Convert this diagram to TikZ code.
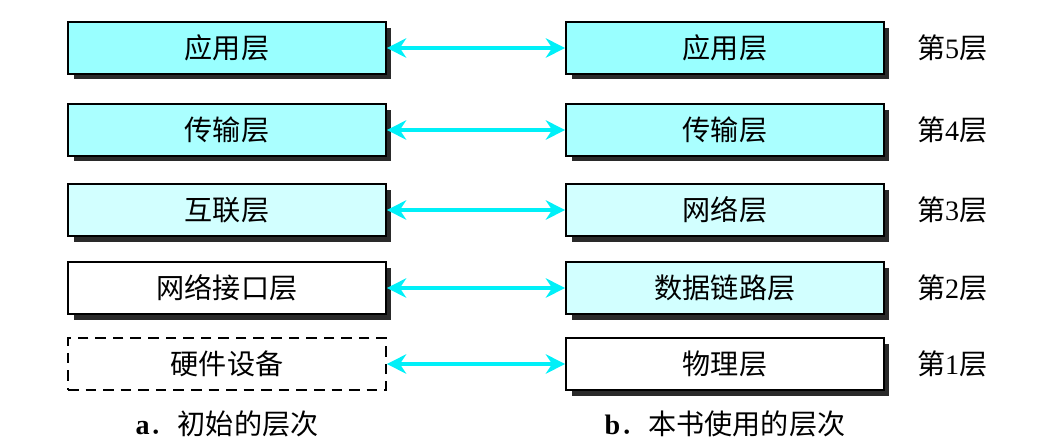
\documentclass[tikz,border=0pt]{standalone}
\usepackage{fontspec}
\setmainfont{Liberation Serif}
\newfontfamily\cjk{Noto Sans CJK SC}
\usetikzlibrary{arrows.meta,shadows}
\definecolor{cTop}{HTML}{99FFFF}
\definecolor{cMid}{HTML}{AAFFFF}
\definecolor{cLow}{HTML}{D2FFFF}
\definecolor{cLink}{HTML}{00F0F8}
\definecolor{cShade}{HTML}{2A2A2A}

\begin{document}
\begin{tikzpicture}[x=0.02cm,y=-0.02cm,
    layer/.style={draw=black,line width=1pt,minimum width=6.36cm,minimum height=1.04cm,
      inner sep=0pt,font=\fontsize{16}{19}\selectfont\cjk,
      drop shadow={shadow xshift=0.11cm,shadow yshift=-0.11cm,fill=cShade,opacity=1}},
    ghost/.style={draw=black,line width=1pt,dash pattern=on 6pt off 4pt,minimum width=6.36cm,
      minimum height=1.04cm,inner sep=0pt,font=\fontsize{16}{19}\selectfont\cjk},
    link/.style={cLink,line width=2pt,{Stealth[length=11pt,width=11pt]}-{Stealth[length=11pt,width=11pt]}},
    tag/.style={font=\fontsize{16}{19}\selectfont},
  ]
  \useasboundingbox (0,0) rectangle (1048,440);

  % left column
  \node[layer,fill=cTop] (l5) at (227,48) {应用层};
  \node[layer,fill=cMid] (l4) at (227,130) {传输层};
  \node[layer,fill=cLow] (l3) at (227,210) {互联层};
  \node[layer,fill=white] (l2) at (227,288) {网络接口层};
  \node[ghost,fill=white] (l1) at (227,364) {硬件设备};

  % right column
  \node[layer,fill=cTop] (r5) at (725,48) {应用层};
  \node[layer,fill=cMid] (r4) at (725,130) {传输层};
  \node[layer,fill=cLow] (r3) at (725,210) {网络层};
  \node[layer,fill=cLow] (r2) at (725,288) {数据链路层};
  \node[layer,fill=white] (r1) at (725,364) {物理层};

  \foreach \i in {1,...,5} {
    \draw[link] (l\i) -- (r\i);
    \node[tag,anchor=west] (n\i) at ([xshift=0.52cm]r\i.east) {{\cjk 第}\i{\cjk 层}};
  }

  \node[tag] (capa) at (227,424) {\textbf{a}{\cjk ．初始的层次}};
  \node[tag] (capb) at (725,424) {\textbf{b}{\cjk ．本书使用的层次}};
\end{tikzpicture}
\end{document}
